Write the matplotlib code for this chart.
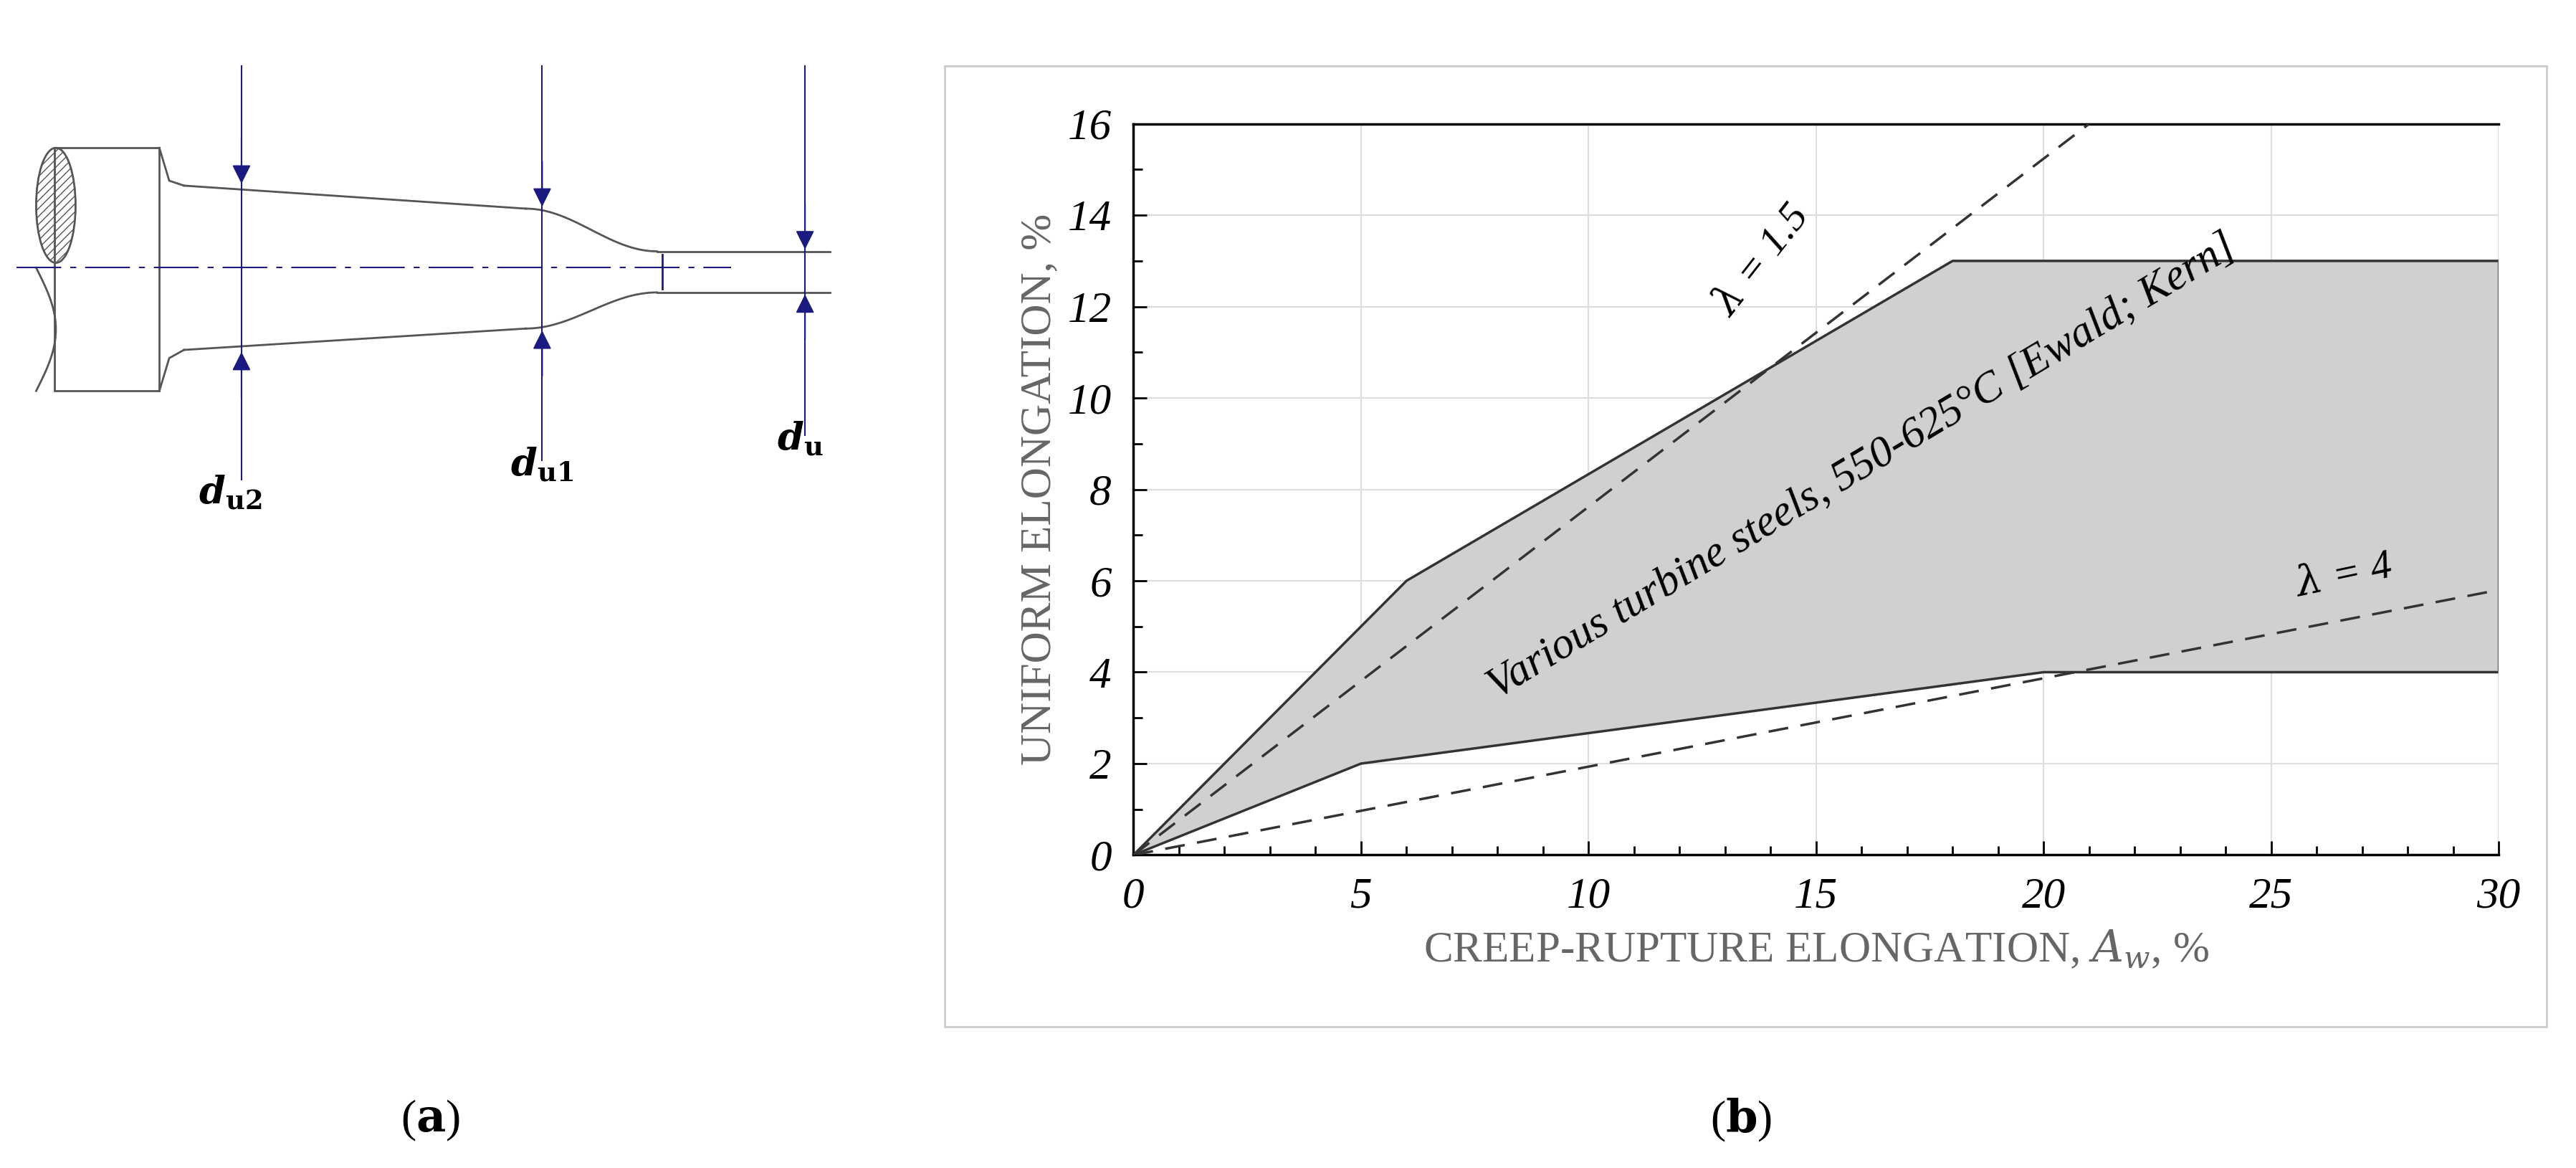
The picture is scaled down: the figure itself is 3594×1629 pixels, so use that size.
import matplotlib.pyplot as plt
import numpy as np
from matplotlib.patches import Rectangle, Ellipse

# band of turbine steels
upper_x = [0, 6, 18, 30]
upper_y = [0, 6, 13, 13]
lower_x = [0, 5, 20, 30]
lower_y = [0, 2, 4, 4]
lam15_x = [0, 21]
lam15_y = [0, 16]
lam4_x = [0, 30]
lam4_y = [0, 5.8]
xticks = [0, 5, 10, 15, 20, 25, 30]
yticks = [0, 2, 4, 6, 8, 10, 12, 14, 16]

plt.rcParams['mathtext.fontset'] = 'dejavuserif'
fig = plt.figure(figsize=(35.94, 16.29), dpi=100)

# overlay axes in the coordinates of a 1568 x 711 view of the figure
bg = fig.add_axes([0, 0, 1, 1])
bg.set_xlim(0, 1568)
bg.set_ylim(711, 0)
bg.axis('off')

# --- panel (a): specimen sketch ---
lc = '#555555'
bc = '#1a1a80'
bg.add_patch(Rectangle((33, 90), 64, 148, fill=False, ec=lc, lw=2))
bg.add_patch(Ellipse((34, 125), 24, 70, fill=False, ec=lc, lw=2, hatch='///'))
t = np.linspace(0, 1, 50)
bg.plot(22 + 12 * np.sin(np.pi * t), 163 + 75 * t, color=lc, lw=2)
bg.plot([97, 103, 112], [90, 110, 113], color=lc, lw=2)
bg.plot([97, 103, 112], [238, 218, 213], color=lc, lw=2)
bg.plot([112, 320], [113, 127], color=lc, lw=2)
bg.plot([112, 320], [213, 200], color=lc, lw=2)
s = 0.5 - 0.5 * np.cos(np.pi * t)
bg.plot(320 + 80 * t, 127 + 26 * s, color=lc, lw=2)
bg.plot(320 + 80 * t, 200 - 22 * s, color=lc, lw=2)
bg.plot([400, 505], [153, 153], color=lc, lw=2)
bg.plot([400, 505], [178, 178], color=lc, lw=2)
bg.plot([10, 445], [163, 163], color=bc, lw=1.5, dashes=[30, 6, 4, 6])
bg.plot([403, 403], [155, 176], color=bc, lw=2)
for x, y0, y1, ya, yb in [(147, 40, 292, 113, 213), (330, 40, 280, 127, 200),
                          (490, 40, 265, 153, 178)]:
    bg.plot([x, x], [y0, y1], color=bc, lw=1.5)
    bg.annotate('', xy=(x, ya), xytext=(x, ya - 30),
                arrowprops=dict(arrowstyle='-|>', color=bc, lw=1.5, mutation_scale=40))
    bg.annotate('', xy=(x, yb), xytext=(x, yb + 30),
                arrowprops=dict(arrowstyle='-|>', color=bc, lw=1.5, mutation_scale=40))
bg.text(140, 300, r'$\boldsymbol{d}_{\mathbf{u2}}$', fontsize=38, ha='center', va='center')
bg.text(330, 283, r'$\boldsymbol{d}_{\mathbf{u1}}$', fontsize=38, ha='center', va='center')
bg.text(487, 267, r'$\boldsymbol{d}_{\mathbf{u}}$', fontsize=38, ha='center', va='center')

bg.text(262, 682, r'($\mathbf{a}$)', fontsize=46, ha='center', va='center', family='Liberation Serif')
bg.text(1060, 682, r'($\mathbf{b}$)', fontsize=46, ha='center', va='center', family='Liberation Serif')
bg.add_patch(Rectangle((575, 40), 975, 585, fill=False, ec='#cccccc', lw=2))

# --- panel (b): chart ---
ax = fig.add_axes([0.440, 0.268, 0.530, 0.626])
poly_x = upper_x + lower_x[::-1]
poly_y = upper_y + lower_y[::-1]
ax.fill(poly_x, poly_y, color='#d0d0d0', zorder=1)
ax.plot(upper_x, upper_y, color='#333333', lw=2.5, zorder=3)
ax.plot(lower_x, lower_y, color='#333333', lw=2.5, zorder=3)
ax.plot([30, 30], [4, 13], color='#666666', lw=2.5, zorder=3)
ax.plot(lam15_x, lam15_y, color='#333333', lw=2.5, dashes=[8, 5], zorder=4)
ax.plot(lam4_x, lam4_y, color='#333333', lw=2.5, dashes=[8, 5], zorder=4)
ax.set_xlim(0, 30)
ax.set_ylim(0, 16)
ax.set_xticks(xticks)
ax.set_yticks(yticks)
ax.set_xticks(range(31), minor=True)
ax.set_yticks(range(17), minor=True)
ax.grid(True, which='major', color='#dddddd', lw=1.5, zorder=0)
ax.set_axisbelow(True)
ax.tick_params(which='both', direction='in', top=False, right=False, width=2)
ax.tick_params(which='major', length=14, labelsize=44, pad=22)
ax.tick_params(which='minor', length=9)
for lab in ax.get_xticklabels() + ax.get_yticklabels():
    lab.set_family('Liberation Serif')
    lab.set_style('italic')
for sp in ax.spines.values():
    sp.set_linewidth(2.5)
ax.spines['right'].set_visible(False)
ax.set_xlabel(r'CREEP-RUPTURE ELONGATION, $A_w$, %', fontsize=44, color='#666666',
              family='Liberation Serif', labelpad=12)
ax.set_ylabel('UNIFORM ELONGATION, %', fontsize=44, color='#666666',
              family='Liberation Serif', labelpad=8)
ax.text(16.0, 8.5, 'Various turbine steels, 550-625°C [Ewald; Kern]', fontsize=44,
        style='italic', family='Liberation Serif', rotation=31, ha='center', va='center',
        rotation_mode='anchor', zorder=5)
ax.text(13.8, 13.0, r'$\lambda$ = 1.5', fontsize=42, style='italic', family='Liberation Serif',
        rotation=52, ha='center', va='center', rotation_mode='anchor', zorder=5)
ax.text(26.6, 6.1, r'$\lambda$ = 4', fontsize=42, style='italic', family='Liberation Serif',
        rotation=12, ha='center', va='center', rotation_mode='anchor', zorder=5)

fig.savefig('out.png', dpi=100)
